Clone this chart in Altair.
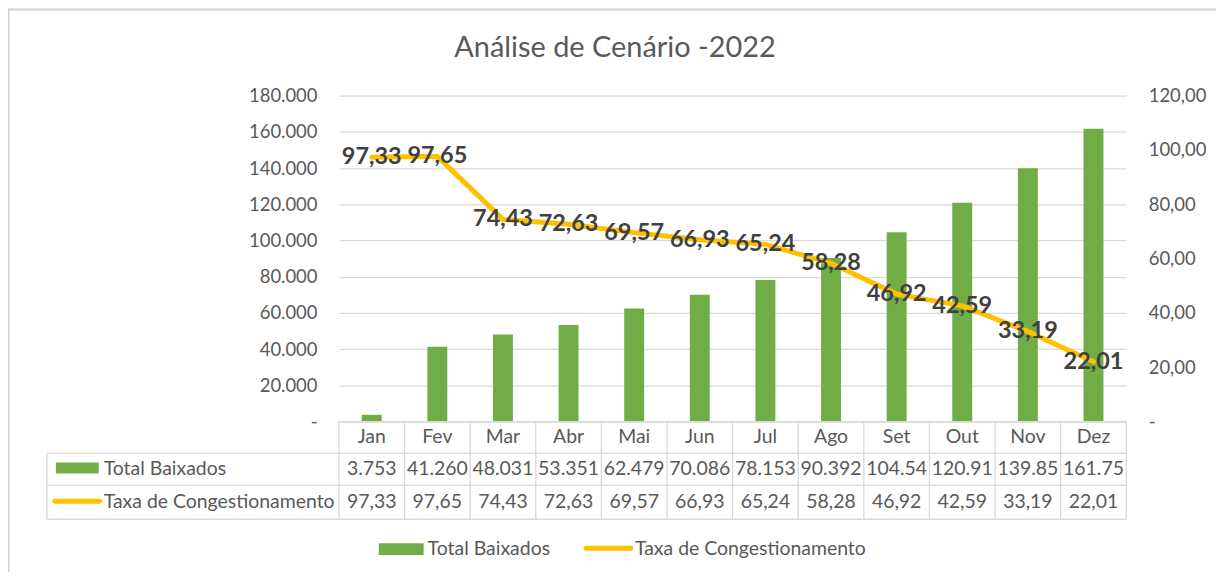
import altair as alt
import pandas as pd

# ---------------- data ----------------
meses = ["Jan", "Fev", "Mar", "Abr", "Mai", "Jun", "Jul", "Ago", "Set", "Out", "Nov", "Dez"]
total_baixados = [3753, 41260, 48031, 53351, 62479, 70086, 78153, 90392, 104540, 120910, 139850, 161750]
taxa_congestionamento = [97.33, 97.65, 74.43, 72.63, 69.57, 66.93, 65.24, 58.28, 46.92, 42.59, 33.19, 22.01]
eixo_esq = [0, 20000, 40000, 60000, 80000, 100000, 120000, 140000, 160000, 180000]
eixo_dir = [0, 20, 40, 60, 80, 100, 120]
titulo = "Análise de Cenário -2022"
serie_nomes = ["Total Baixados", "Taxa de Congestionamento"]

df = pd.DataFrame({"mes": meses, "baixados": total_baixados, "taxa": taxa_congestionamento})
one = pd.DataFrame({"k": [0]})

# ---------------- style ----------------
W, H = 790, 327
GREEN = "#70AD47"
ORANGE = "#FFC000"
GRID = "#D9D9D9"
TXT = "#595959"
LBL = "#404040"
FONT = "Lato"
FS = 19.5
AFS = 18.5
FSP = "\u2007"

xenc = alt.X("mes:N", sort=meses, scale=alt.Scale(paddingInner=0, paddingOuter=0), axis=None)

bars = alt.Chart(df).mark_bar(color=GREEN, size=20).encode(
    x=xenc,
    y=alt.Y("baixados:Q", scale=alt.Scale(domain=[0, 180000]),
            axis=alt.Axis(values=eixo_esq, grid=True, gridColor=GRID, gridWidth=1.3,
                          domain=False, ticks=False, labelPadding=22, labelFontSize=AFS,
                          labelColor=TXT, labelFont=FONT, title=None,
                          labelExpr="datum.value == 0 ? '-" + FSP * 1 + "' : replace(format(datum.value, ','), ',', '.')")),
)

line = alt.Chart(df).mark_line(color=ORANGE, strokeWidth=5, strokeCap="round", strokeJoin="round").encode(
    x=xenc,
    y=alt.Y("taxa:Q", scale=alt.Scale(domain=[0, 120]),
            axis=alt.Axis(orient="right", values=eixo_dir, grid=False, domain=False, ticks=False,
                          labelPadding=22, labelFontSize=AFS, labelColor=TXT, labelFont=FONT,
                          title=None, labelAlign="left",
                          labelExpr="datum.value == 0 ? '\u00a0\u00a0-' : replace(format(datum.value, '.2f'), '.', ',')")),
)

pt_labels = alt.Chart(df).transform_calculate(
    lab="replace(format(datum.taxa, '.2f'), '.', ',')"
).mark_text(fontSize=23.5, fontWeight="bold", color=LBL, font=FONT, baseline="middle").encode(
    x=xenc,
    y=alt.Y("taxa:Q", scale=alt.Scale(domain=[0, 120]), axis=None),
    text="lab:N",
)


def rule(x1, x2, y1, y2, color=GRID, w=1.3):
    return alt.Chart(one).mark_rule(color=color, strokeWidth=w).encode(
        x=alt.value(x1), x2=alt.value(x2), y=alt.value(y1), y2=alt.value(y2))


def label(txt, xx, yy, size=FS, align="left", color=TXT):
    return alt.Chart(one).mark_text(text=txt, fontSize=size, align=align, baseline="middle",
                                    color=color, font=FONT).encode(x=alt.value(xx), y=alt.value(yy))


# ---------- data table ----------
col_lines = alt.Chart(df).mark_rule(color=GRID, strokeWidth=1.3).encode(
    x=alt.X("mes:N", sort=meses, bandPosition=0, scale=alt.Scale(paddingInner=0, paddingOuter=0), axis=None),
    y=alt.value(H), y2=alt.value(H + 98),
)
right_line = rule(W, W, H, H + 98)
left_line = rule(-293, -293, H + 32, H + 98)
h_lines = [rule(0, W, H, H), rule(-293, W, H + 32, H + 32), rule(-293, W, H + 64, H + 64),
           rule(-293, W, H + 98, H + 98)]

head = alt.Chart(df).mark_text(fontSize=FS, color=TXT, font=FONT, baseline="middle").encode(
    x=xenc, y=alt.value(H + 16), text="mes:N")
row1 = alt.Chart(df).transform_calculate(
    lab="substring(replace(format(datum.baixados, ','), ',', '.'), 0, 6)"
).mark_text(fontSize=FS, color=TXT, font=FONT, baseline="middle").encode(
    x=xenc, y=alt.value(H + 48), text="lab:N")
row2 = alt.Chart(df).transform_calculate(
    lab="replace(format(datum.taxa, '.2f'), '.', ',')"
).mark_text(fontSize=FS, color=TXT, font=FONT, baseline="middle").encode(
    x=xenc, y=alt.value(H + 81), text="lab:N")

sw1 = alt.Chart(one).mark_rect(color=GREEN).encode(
    x=alt.value(-284), x2=alt.value(-241), y=alt.value(H + 41), y2=alt.value(H + 52))
sw2 = alt.Chart(one).mark_rule(color=ORANGE, strokeWidth=5, strokeCap="round").encode(
    x=alt.value(-285), x2=alt.value(-240), y=alt.value(H + 80), y2=alt.value(H + 80))
t1 = label(serie_nomes[0], -236, H + 48)
t2 = label(serie_nomes[1], -236, H + 81)

# ---------- legend ----------
lg1 = alt.Chart(one).mark_rect(color=GREEN).encode(
    x=alt.value(40), x2=alt.value(85), y=alt.value(H + 122), y2=alt.value(H + 134))
lg2 = alt.Chart(one).mark_rule(color=ORANGE, strokeWidth=5, strokeCap="round").encode(
    x=alt.value(248), x2=alt.value(293), y=alt.value(H + 127), y2=alt.value(H + 127))
lt1 = label(serie_nomes[0], 89, H + 128)
lt2 = label(serie_nomes[1], 297, H + 128)

# ---------- title & frame ----------
title = label(titulo, 277, -48, size=29, align="center")
frame_top = rule(-332, 900, -86.5, -86.5, color="#D0D0D0", w=2)
frame_left = rule(-331.5, -331.5, -87, 500, color="#D0D0D0", w=2)

chart = alt.layer(
    frame_top, frame_left, title,
    bars, line, pt_labels,
    col_lines, right_line, left_line, *h_lines,
    head, row1, row2, sw1, sw2, t1, t2,
    lg1, lg2, lt1, lt2,
).resolve_scale(y="independent").properties(
    width=W, height=H,
    autosize=alt.AutoSizeParams(type="none"),
    padding={"left": 332, "top": 87, "right": 90, "bottom": 150},
).configure(font=FONT).configure_view(stroke="transparent", strokeWidth=0).configure_axis(domain=False)

chart.save("out.html", embed_options={"renderer": "svg", "actions": False})
